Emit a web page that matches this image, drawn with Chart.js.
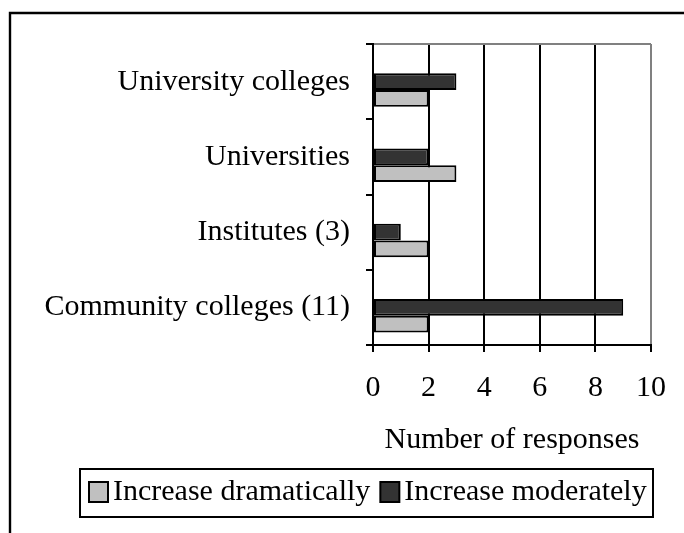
<!DOCTYPE html>
<html>
<head>
<meta charset="utf-8">
<script src="https://cdn.jsdelivr.net/npm/chart.js@4/dist/chart.umd.min.js"></script>
<style>
  html, body { margin: 0; padding: 0; background: #fff; }
  #wrap { width: 684px; height: 533px; position: relative; }
</style>
</head>
<body>
<div id="wrap"><canvas id="c" width="684" height="533"></canvas></div>
<script>
// Survey responses by institution type
const categories = ['University colleges', 'Universities', 'Institutes (3)', 'Community colleges (11)'];
const increaseDramatically = [2, 3, 2, 2];
const increaseModerately = [3, 2, 1, 9];
const seriesNames = ['Increase dramatically', 'Increase moderately'];
const xTickValues = [0, 2, 4, 6, 8, 10];
const axisTitle = 'Number of responses';

const FONT = 'Liberation Serif, Times New Roman, serif';
const LIGHT = '#c0c0c0';
const DARK = '#333333';
const FRAME_GRAY = '#808080';

// Page frame and white background
const framePlugin = {
  id: 'frame',
  beforeDraw(chart) {
    const ctx = chart.ctx;
    ctx.save();
    ctx.fillStyle = '#fff';
    ctx.fillRect(0, 0, chart.width, chart.height);
    ctx.strokeStyle = '#000';
    ctx.lineWidth = 2.4;
    ctx.beginPath();
    ctx.moveTo(10, chart.height + 10);
    ctx.lineTo(10, 13);
    ctx.lineTo(chart.width + 10, 13);
    ctx.stroke();
    ctx.restore();
  }
};

// Boxed legend below the axis title
const boxLegendPlugin = {
  id: 'boxLegend',
  afterDraw(chart) {
    const ctx = chart.ctx;
    const items = [
      { text: seriesNames[0], color: LIGHT },
      { text: seriesNames[1], color: DARK }
    ];
    ctx.save();
    ctx.strokeStyle = '#000';
    ctx.lineWidth = 2;
    ctx.strokeRect(80, 469, 573, 48);
    ctx.font = '30px ' + FONT;
    ctx.textBaseline = 'middle';
    ctx.fillStyle = '#000';
    let x = 89;
    const cy = 492;
    items.forEach((it) => {
      ctx.fillStyle = it.color;
      ctx.fillRect(x, cy - 10, 19, 20);
      ctx.strokeStyle = '#000';
      ctx.lineWidth = 2;
      ctx.strokeRect(x, cy - 10, 19, 20);
      ctx.fillStyle = '#000';
      ctx.fillText(it.text, x + 24, cy);
      x += 24 + ctx.measureText(it.text).width + 10;
    });
    ctx.restore();
  }
};

new Chart(document.getElementById('c'), {
  type: 'bar',
  data: {
    labels: categories,
    datasets: [
      { label: 'reserved', data: [], backgroundColor: 'rgba(0,0,0,0)', borderWidth: 0 },
      { label: seriesNames[1], data: increaseModerately, backgroundColor: DARK, borderColor: '#000', borderWidth: 2, borderSkipped: false },
      { label: seriesNames[0], data: increaseDramatically, backgroundColor: LIGHT, borderColor: '#000', borderWidth: 2, borderSkipped: false }
    ]
  },
  options: {
    indexAxis: 'y',
    responsive: false,
    animation: false,
    devicePixelRatio: 1,
    categoryPercentage: 0.665,
    barPercentage: 1,
    layout: { padding: { top: 44, right: 30, bottom: 75, left: 0 } },
    plugins: {
      legend: { display: false },
      tooltip: { enabled: false }
    },
    scales: {
      x: {
        type: 'linear',
        min: 0,
        max: 10,
        afterBuildTicks(scale) { scale.ticks = xTickValues.map(v => ({ value: v })); },
        afterFit(scale) { scale.height = 113; },
        ticks: { color: '#000', font: { family: FONT, size: 30 }, padding: 18, maxRotation: 0 },
        grid: {
          color: (c) => (c.tick && c.tick.value === 10 ? FRAME_GRAY : '#000'),
          tickColor: '#000',
          lineWidth: 2,
          tickLength: 7,
          drawOnChartArea: true
        },
        border: { display: true, color: '#000', width: 2 },
        title: { display: true, text: axisTitle, color: '#000', font: { family: FONT, size: 30 }, padding: { top: 0, bottom: 0 } }
      },
      y: {
        afterFit(scale) { scale.width = 373; },
        ticks: { color: '#000', font: { family: FONT, size: 30 }, padding: 16 },
        grid: {
          offset: true,
          color: (c) => (c.index === 0 ? FRAME_GRAY : 'rgba(0,0,0,0)'),
          tickColor: '#000',
          lineWidth: 2,
          tickLength: 7,
          drawOnChartArea: true
        },
        border: { display: true, color: '#000', width: 2 }
      }
    }
  },
  plugins: [framePlugin, boxLegendPlugin]
});
</script>
</body>
</html>
